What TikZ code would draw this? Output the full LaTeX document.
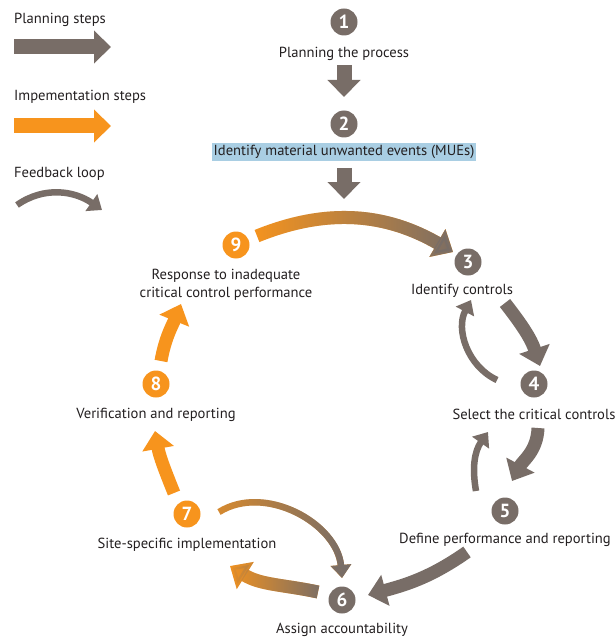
\documentclass[tikz,border=0pt]{standalone}
\usepackage{fontspec}
\setmainfont{PT Sans}
\usetikzlibrary{arrows.meta,fadings}
\definecolor{cgrey}{HTML}{786D67}
\definecolor{corange}{HTML}{F7941D}
\definecolor{cblue}{HTML}{A9CEE3}
\definecolor{ctext}{HTML}{231F20}
\tikzfading[name=lefttoright, left color=transparent!100, right color=transparent!0]
\begin{document}
\begin{tikzpicture}[x=1pt,y=1pt,
  num/.style={circle, fill=#1, text=white, font=\fontsize{19}{19}\selectfont\bfseries, minimum size=27pt, inner sep=0pt},
  lbl/.style={text=ctext, font=\fontsize{14.6}{18.5}\selectfont, align=center, inner sep=0pt, yshift=-2pt},
  big/.style={line width=13pt, -{Triangle[width=31pt,length=18pt]}},
  thinarrow/.style={line width=6.5pt, -{Triangle[width=20pt,length=13pt]}},
  straight/.style={line width=15pt, -{Triangle[width=32pt,length=17pt]}},
]
\useasboundingbox (0,0) rectangle (615,-639);

% legend
\node[lbl, anchor=west] (lp) at (14,-18) {Planning steps};
\coordinate (lpa) at (14,-47); \coordinate (lpb) at (111,-47);
\draw[cgrey, straight] (lpa) -- (lpb);
\node[lbl, anchor=west] (li) at (14,-95) {Impementation steps};
\coordinate (lia) at (14,-126); \coordinate (lib) at (111,-126);
\draw[corange, straight] (lia) -- (lib);
\node[lbl, anchor=west] (lf) at (14,-172) {Feedback loop};
\coordinate (lfa) at (17,-205); \coordinate (lfb) at (102,-210);
\draw[cgrey, thinarrow] (lfa) to[out=35,in=145] (lfb);

% planning steps
\node[num=cgrey] (n1) at (344,-22) {1};
\node[lbl] (t1) at (344,-52) {Planning the process};
\coordinate (d1a) at (344,-65); \coordinate (d1b) at (344,-97);
\draw[cgrey, straight] (d1a) -- (d1b);
\node[num=cgrey] (n2) at (344,-124) {2};
\node[lbl, yshift=2pt, fill=cblue, minimum height=18pt, inner xsep=1.5pt] (t2) at (344,-152) {Identify material unwanted events (MUEs)};
\coordinate (d2a) at (344,-168); \coordinate (d2b) at (344,-199);
\draw[cgrey, straight] (d2a) -- (d2b);

% cycle nodes
\node[num=cgrey] (n3) at (468,-262) {3};
\node[lbl] (t3) at (462,-289) {Identify controls};
\node[num=cgrey] (n4) at (534,-384) {4};
\node[lbl] (t4) at (534,-412) {Select the critical controls};
\node[num=cgrey] (n5) at (505,-511) {5};
\node[lbl] (t5) at (505,-538) {Define performance and reporting};
\node[num=cgrey] (n6) at (342,-600) {6};
\node[lbl] (t6) at (342,-628) {Assign accountability};
\node[num=corange] (n7) at (187,-514) {7};
\node[lbl] (t7) at (187,-543) {Site-specific implementation};
\node[num=corange] (n8) at (156,-384) {8};
\node[lbl] (t8) at (156,-413) {Verification and reporting};
\node[num=corange] (n9) at (236,-245) {9};
\node[lbl] (t9) at (226,-283) {Response to inadequate\\critical control performance};

% arrow end points
\coordinate (a93) at (257,-236); \coordinate (b93) at (453,-252);
\coordinate (a34) at (505,-303); \coordinate (b34) at (540,-366);
\coordinate (a43) at (497,-380); \coordinate (b43) at (471,-300);
\coordinate (a45) at (538,-428); \coordinate (b45) at (512,-481);
\coordinate (a54) at (476,-491); \coordinate (b54) at (488,-432);
\coordinate (a56) at (467,-552); \coordinate (b56) at (368,-595);
\coordinate (a67) at (318,-592); \coordinate (b67) at (230,-566);
\coordinate (a76) at (219,-512); \coordinate (b76) at (342,-578);
\coordinate (a78) at (174,-493); \coordinate (b78) at (155,-431);
\coordinate (a89) at (161,-361); \coordinate (b89) at (181,-304);

% 9 -> 3 (gradient)
\draw[corange, big] (a93) to[out=22,in=150] (b93);
\draw[cgrey, big, path fading=lefttoright] (a93) to[out=22,in=150] (b93);
% 3 -> 4
\draw[cgrey, big] (a34) to[out=-52,in=108] (b34);
% 4 -> 3 feedback
\draw[cgrey, thinarrow] (a43) to[out=155,in=-118] (b43);
% 4 -> 5
\draw[cgrey, big] (a45) to[out=-92,in=62] (b45);
% 5 -> 4 feedback
\draw[cgrey, thinarrow] (a54) to[out=100,in=-125] (b54);
% 5 -> 6
\draw[cgrey, big] (a56) to[out=-145,in=15] (b56);
% 6 -> 7 (gradient)
\draw[corange, big] (a67) to[out=168,in=-32] (b67);
\draw[cgrey, big, path fading=lefttoright] (a67) to[out=168,in=-32] (b67);
% 7 -> 6 feedback (gradient)
\draw[corange!75!cgrey, thinarrow] (a76) to[out=32,in=95] (b76);
\draw[cgrey, thinarrow, path fading=lefttoright] (a76) to[out=32,in=95] (b76);
% 7 -> 8
\draw[corange, big] (a78) to[out=112,in=-80] (b78);
% 8 -> 9
\draw[corange, big] (a89) to[out=80,in=-112] (b89);
\end{tikzpicture}
\end{document}
